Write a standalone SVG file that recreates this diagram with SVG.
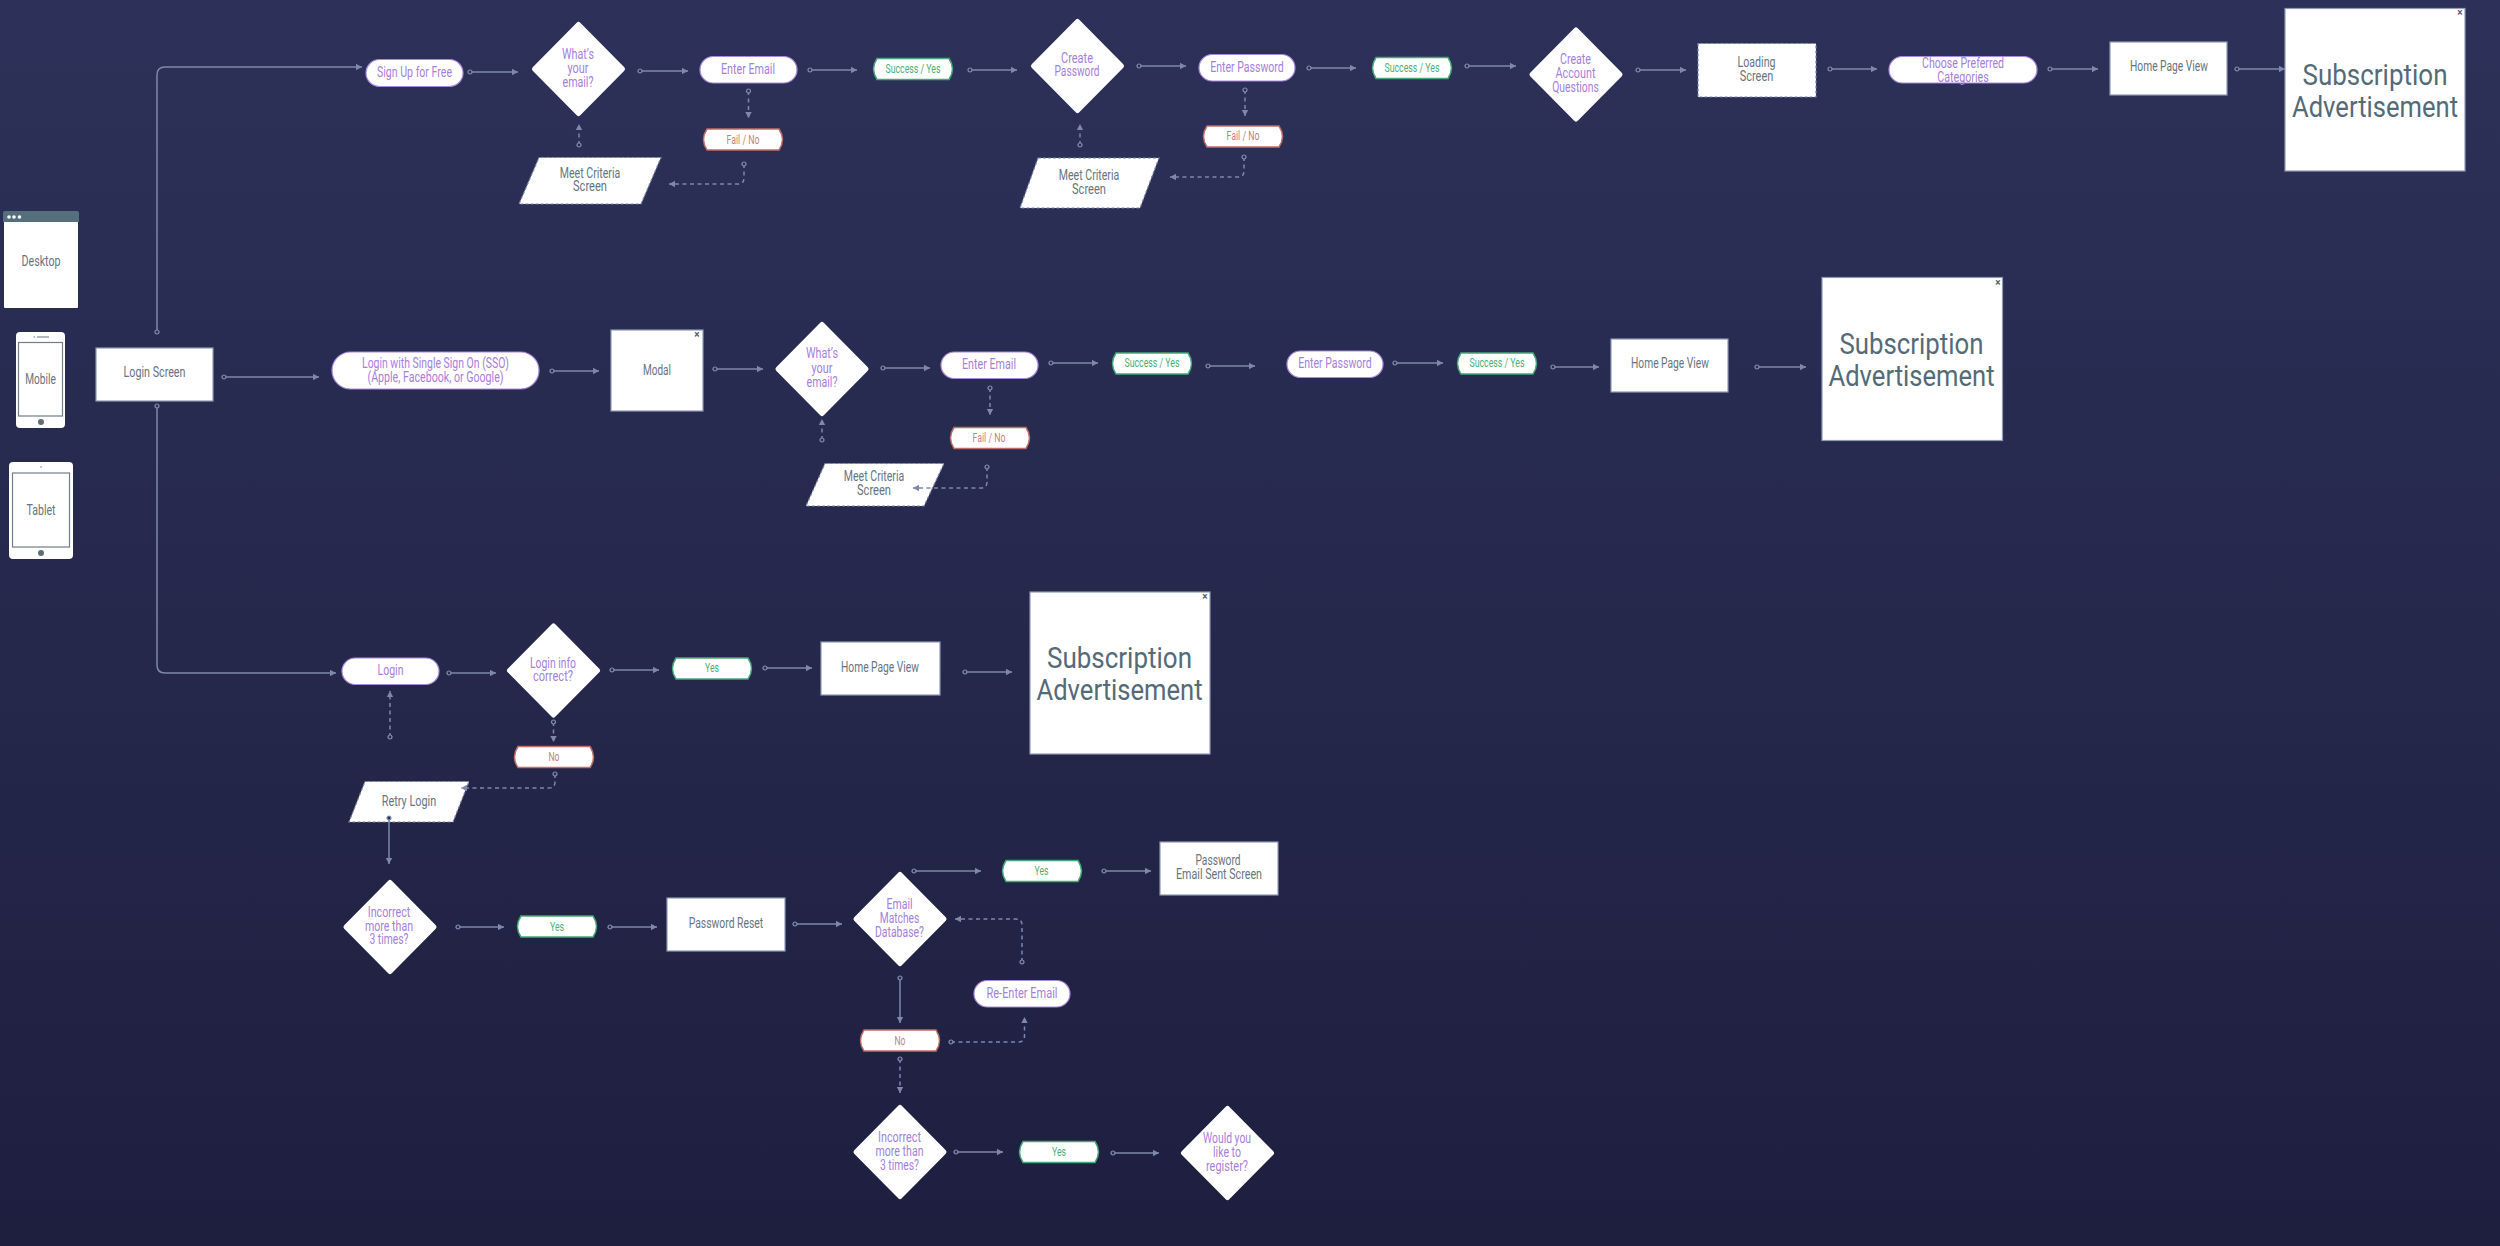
<svg xmlns="http://www.w3.org/2000/svg" width="2500" height="1246" viewBox="0 0 2500 1246">
<style>
text{font-family:Roboto,"Open Sans","Liberation Sans",sans-serif;text-anchor:middle;dominant-baseline:central;font-size:15px;fill:#66757f;transform:translateY(-0.8px)}
.p{fill:#a680dc}.g{fill:#4cae74;font-size:12.5px}.r{fill:#c47f80;font-size:12.5px}.big{font-size:29px;fill:#546b77;transform:translateY(-1.5px)}.x{font-size:10px;font-weight:700;fill:#50606c}
.box{fill:#fff;stroke:#8f9ab5;stroke-width:1.2}
.dash{fill:#fff;stroke:#7a83a0;stroke-width:1.2;stroke-dasharray:3 2}
.pill{fill:#fff;stroke:#a98ade;stroke-width:1.2}
.dia{fill:#fff;stroke:#fff;stroke-width:5;stroke-linejoin:round}
.ok{fill:#fff;stroke:#45a878;stroke-width:1.5}.no{fill:#fff;stroke:#bf6d68;stroke-width:1.5}
.scr{fill:none;stroke:#6f7f85;stroke-width:1.2}
#connectors path{fill:none;stroke:#7d88aa;stroke-width:1.5;marker-start:url(#o);marker-end:url(#a)}
#connectors .d{stroke-dasharray:4 3.5}
</style>
<defs>
<linearGradient id="bg" x1="0" y1="0" x2="0" y2="1"><stop offset="0" stop-color="#2d3159"/><stop offset="1" stop-color="#1e1f3f"/></linearGradient>
<marker id="a" markerUnits="userSpaceOnUse" markerWidth="8" markerHeight="8" refX="7" refY="4" orient="auto"><path d="M1 0.8L7 4L1 7.2Z" fill="#7d88aa"/></marker>
<marker id="o" markerUnits="userSpaceOnUse" markerWidth="8" markerHeight="8" refX="4" refY="4" orient="auto"><circle cx="4" cy="4" r="2" fill="#282b52" stroke="#8590b0" stroke-width="1.2"/></marker>
<path id="term" d="M4 0H76Q83 10.5 76 21H4Q-3 10.5 4 0Z"/>
<polygon id="dm" points="0,-44.5 44,0 0,44.5 -44,0"/>
</defs>
<rect width="2500" height="1246" fill="url(#bg)"/>
<g id="desktop"><rect x="4" y="212" width="74" height="96" rx="1" fill="#fff"/><path d="M3 222V213Q3 211 5 211H77Q79 211 79 213V222Z" fill="#55707c"/><circle cx="9" cy="217" r="1.800" fill="#fff"/><circle cx="14" cy="217" r="1.800" fill="#fff"/><circle cx="19.500" cy="217" r="1.800" fill="#fff"/><text x="41" y="262" textLength="39" lengthAdjust="spacingAndGlyphs">Desktop</text></g>
<g id="mobile"><rect x="16" y="332" width="49" height="96" rx="4" fill="#fff"/><rect x="18.500" y="342.500" width="44" height="73.500" class="scr"/><circle cx="41" cy="422" r="3" fill="#5e6e72"/><path d="M37 337H49M33.500 337H35" stroke="#66757f" stroke-width="1"/><text x="40.500" y="380" textLength="30.500" lengthAdjust="spacingAndGlyphs">Mobile</text></g>
<g id="tablet"><rect x="9" y="462" width="64" height="97" rx="4" fill="#fff"/><rect x="12.500" y="473" width="57" height="74" class="scr"/><circle cx="41" cy="553" r="3" fill="#5e6e72"/><circle cx="41" cy="467" r="0.700" fill="#5e6e72"/><text x="41" y="511" textLength="29" lengthAdjust="spacingAndGlyphs">Tablet</text></g>
<g id="login-screen"><rect class="box" x="96" y="348" width="117" height="53"/><text x="154.500" y="373" textLength="62" lengthAdjust="spacingAndGlyphs">Login Screen</text></g>
<g id="sign-up"><rect class="pill" x="366" y="59.500" width="97" height="27" rx="13.500"/><text class="p" x="414.500" y="73" textLength="75" lengthAdjust="spacingAndGlyphs">Sign Up for Free</text></g>
<g id="d-email1"><use href="#dm" class="dia" x="578.500" y="69"/><text class="p" x="578" y="55" textLength="32" lengthAdjust="spacingAndGlyphs">What’s</text><text class="p" x="578" y="69" textLength="21" lengthAdjust="spacingAndGlyphs">your</text><text class="p" x="578" y="83" textLength="31" lengthAdjust="spacingAndGlyphs">email?</text></g>
<g id="enter-email1"><rect class="pill" x="700" y="56.500" width="97" height="26.500" rx="13.250"/><text class="p" x="748" y="70" textLength="54" lengthAdjust="spacingAndGlyphs">Enter Email</text></g>
<g id="fail1"><use href="#term" class="no" x="703" y="129"/><text class="r" x="743" y="140" textLength="33" lengthAdjust="spacingAndGlyphs">Fail / No</text></g>
<g id="meet1"><polygon class="dash" points="539,157.500 661,157.500 641,204 519,204"/><text x="590" y="174" textLength="60.500" lengthAdjust="spacingAndGlyphs">Meet Criteria</text><text x="590" y="187" textLength="34" lengthAdjust="spacingAndGlyphs">Screen</text></g>
<g id="success1"><use href="#term" class="ok" x="873" y="58.500"/><text class="g" x="913" y="69.500" textLength="55" lengthAdjust="spacingAndGlyphs">Success / Yes</text></g>
<g id="d-password"><use href="#dm" class="dia" x="1077.500" y="66"/><text class="p" x="1077" y="59" textLength="32" lengthAdjust="spacingAndGlyphs">Create</text><text class="p" x="1077" y="72" textLength="45" lengthAdjust="spacingAndGlyphs">Password</text></g>
<g id="enter-password1"><rect class="pill" x="1199" y="54.500" width="96" height="26.500" rx="13.250"/><text class="p" x="1247" y="68" textLength="73.500" lengthAdjust="spacingAndGlyphs">Enter Password</text></g>
<g id="fail2"><use href="#term" class="no" x="1203" y="126"/><text class="r" x="1243" y="136.500" textLength="33" lengthAdjust="spacingAndGlyphs">Fail / No</text></g>
<g id="meet2"><polygon class="dash" points="1038,158 1159,158 1140,208 1020,208"/><text x="1089" y="176" textLength="60.500" lengthAdjust="spacingAndGlyphs">Meet Criteria</text><text x="1089" y="190" textLength="34" lengthAdjust="spacingAndGlyphs">Screen</text></g>
<g id="success2"><use href="#term" class="ok" x="1372" y="57.500"/><text class="g" x="1412" y="68" textLength="55" lengthAdjust="spacingAndGlyphs">Success / Yes</text></g>
<g id="d-account"><use href="#dm" class="dia" x="1576" y="74.500"/><text class="p" x="1575.500" y="60" textLength="31" lengthAdjust="spacingAndGlyphs">Create</text><text class="p" x="1575.500" y="74" textLength="40" lengthAdjust="spacingAndGlyphs">Account</text><text class="p" x="1575.500" y="88" textLength="46.500" lengthAdjust="spacingAndGlyphs">Questions</text></g>
<g id="loading"><rect class="dash" x="1698" y="43.500" width="118" height="53.500"/><text x="1756.500" y="63" textLength="38" lengthAdjust="spacingAndGlyphs">Loading</text><text x="1756.500" y="77" textLength="33.500" lengthAdjust="spacingAndGlyphs">Screen</text></g>
<g id="categories"><rect class="pill" x="1889" y="56.500" width="148" height="26.500" rx="13.250"/><text class="p" x="1963" y="64" textLength="82" lengthAdjust="spacingAndGlyphs">Choose Preferred</text><text class="p" x="1963" y="78" textLength="51.500" lengthAdjust="spacingAndGlyphs">Categories</text></g>
<g id="home1"><rect class="box" x="2110" y="42" width="117" height="53"/><text x="2169" y="67" textLength="78" lengthAdjust="spacingAndGlyphs">Home Page View</text></g>
<g id="sub1"><rect class="box" x="2285" y="8.500" width="180" height="162.500"/><text class="x" x="2460" y="13">×</text><text class="big" x="2375" y="76" textLength="145" lengthAdjust="spacingAndGlyphs">Subscription</text><text class="big" x="2375" y="108" textLength="166" lengthAdjust="spacingAndGlyphs">Advertisement</text></g>
<g id="sso"><rect class="pill" x="332" y="352" width="207" height="37" rx="18.500"/><text class="p" x="435.500" y="364" textLength="147" lengthAdjust="spacingAndGlyphs">Login with Single Sign On (SSO)</text><text class="p" x="435.500" y="378" textLength="136" lengthAdjust="spacingAndGlyphs">(Apple, Facebook, or Google)</text></g>
<g id="modal"><rect class="box" x="611" y="330" width="92" height="81"/><text class="x" x="697" y="335">×</text><text x="657" y="371" textLength="28" lengthAdjust="spacingAndGlyphs">Modal</text></g>
<g id="d-email2"><use href="#dm" class="dia" x="822" y="369"/><text class="p" x="822" y="354" textLength="32" lengthAdjust="spacingAndGlyphs">What’s</text><text class="p" x="822" y="369" textLength="21" lengthAdjust="spacingAndGlyphs">your</text><text class="p" x="822" y="383" textLength="31" lengthAdjust="spacingAndGlyphs">email?</text></g>
<g id="enter-email2"><rect class="pill" x="941" y="352" width="97" height="26.500" rx="13.250"/><text class="p" x="989" y="365" textLength="54" lengthAdjust="spacingAndGlyphs">Enter Email</text></g>
<g id="success3"><use href="#term" class="ok" x="1112" y="353"/><text class="g" x="1152" y="363.500" textLength="55" lengthAdjust="spacingAndGlyphs">Success / Yes</text></g>
<g id="enter-password2"><rect class="pill" x="1287" y="351" width="96" height="26.500" rx="13.250"/><text class="p" x="1335" y="364" textLength="73.500" lengthAdjust="spacingAndGlyphs">Enter Password</text></g>
<g id="success4"><use href="#term" class="ok" x="1457" y="353"/><text class="g" x="1497" y="363.500" textLength="55" lengthAdjust="spacingAndGlyphs">Success / Yes</text></g>
<g id="home2"><rect class="box" x="1611" y="339" width="117" height="53"/><text x="1670" y="364" textLength="78" lengthAdjust="spacingAndGlyphs">Home Page View</text></g>
<g id="sub2"><rect class="box" x="1822" y="277.500" width="180.500" height="163"/><text class="x" x="1998" y="283">×</text><text class="big" x="1911.500" y="345" textLength="144" lengthAdjust="spacingAndGlyphs">Subscription</text><text class="big" x="1911.500" y="377" textLength="166" lengthAdjust="spacingAndGlyphs">Advertisement</text></g>
<g id="fail3"><use href="#term" class="no" x="950" y="427.500"/><text class="r" x="989" y="438" textLength="33" lengthAdjust="spacingAndGlyphs">Fail / No</text></g>
<g id="meet3"><polygon class="dash" points="825,463.500 944,463.500 924,506 806,506"/><text x="874" y="477" textLength="60.500" lengthAdjust="spacingAndGlyphs">Meet Criteria</text><text x="874" y="491" textLength="34" lengthAdjust="spacingAndGlyphs">Screen</text></g>
<g id="login"><rect class="pill" x="342" y="658" width="97" height="26.500" rx="13.250"/><text class="p" x="390.500" y="671" textLength="26" lengthAdjust="spacingAndGlyphs">Login</text></g>
<g id="d-login"><use href="#dm" class="dia" x="553.500" y="670.500"/><text class="p" x="553" y="664" textLength="46" lengthAdjust="spacingAndGlyphs">Login info</text><text class="p" x="553" y="677" textLength="40" lengthAdjust="spacingAndGlyphs">correct?</text></g>
<g id="yes1"><use href="#term" class="ok" x="672" y="658"/><text class="g" x="712" y="668.500" textLength="14" lengthAdjust="spacingAndGlyphs">Yes</text></g>
<g id="home3"><rect class="box" x="821" y="642" width="119" height="53"/><text x="880" y="667.500" textLength="78" lengthAdjust="spacingAndGlyphs">Home Page View</text></g>
<g id="sub3"><rect class="box" x="1030" y="592" width="180" height="162"/><text class="x" x="1205" y="597">×</text><text class="big" x="1119.500" y="659" textLength="145" lengthAdjust="spacingAndGlyphs">Subscription</text><text class="big" x="1119.500" y="691" textLength="166" lengthAdjust="spacingAndGlyphs">Advertisement</text></g>
<g id="no1"><use href="#term" class="no" x="514" y="746.500"/><text class="r" x="554" y="757" textLength="11" lengthAdjust="spacingAndGlyphs">No</text></g>
<g id="retry"><polygon class="dash" points="365,781.500 469,781.500 453,822 349,822"/><text x="409" y="802" textLength="54.500" lengthAdjust="spacingAndGlyphs">Retry Login</text></g>
<g id="d-incorrect1"><use href="#dm" class="dia" x="390" y="927"/><text class="p" x="389" y="913" textLength="42.500" lengthAdjust="spacingAndGlyphs">Incorrect</text><text class="p" x="389" y="927" textLength="48" lengthAdjust="spacingAndGlyphs">more than</text><text class="p" x="389" y="940" textLength="39" lengthAdjust="spacingAndGlyphs">3 times?</text></g>
<g id="yes2"><use href="#term" class="ok" x="517" y="916"/><text class="g" x="557" y="927" textLength="14" lengthAdjust="spacingAndGlyphs">Yes</text></g>
<g id="reset"><rect class="box" x="667" y="898" width="118" height="53"/><text x="726" y="924" textLength="74.500" lengthAdjust="spacingAndGlyphs">Password Reset</text></g>
<g id="d-match"><use href="#dm" class="dia" x="900" y="919"/><text class="p" x="899.500" y="905" textLength="26" lengthAdjust="spacingAndGlyphs">Email</text><text class="p" x="899.500" y="919" textLength="39.500" lengthAdjust="spacingAndGlyphs">Matches</text><text class="p" x="899.500" y="933" textLength="49" lengthAdjust="spacingAndGlyphs">Database?</text></g>
<g id="yes3"><use href="#term" class="ok" x="1002" y="860.500"/><text class="g" x="1041.500" y="871" textLength="14" lengthAdjust="spacingAndGlyphs">Yes</text></g>
<g id="sent"><rect class="box" x="1160" y="842" width="118" height="53"/><text x="1218" y="861" textLength="45" lengthAdjust="spacingAndGlyphs">Password</text><text x="1219" y="875" textLength="86" lengthAdjust="spacingAndGlyphs">Email Sent Screen</text></g>
<g id="re-enter"><rect class="pill" x="974" y="980.500" width="96" height="26.500" rx="13.250"/><text class="p" x="1022" y="994" textLength="71" lengthAdjust="spacingAndGlyphs">Re-Enter Email</text></g>
<g id="no2"><use href="#term" class="no" x="860" y="1030"/><text class="r" x="900" y="1041" textLength="11" lengthAdjust="spacingAndGlyphs">No</text></g>
<g id="d-incorrect2"><use href="#dm" class="dia" x="900" y="1152"/><text class="p" x="899.500" y="1138" textLength="43" lengthAdjust="spacingAndGlyphs">Incorrect</text><text class="p" x="899.500" y="1152" textLength="48" lengthAdjust="spacingAndGlyphs">more than</text><text class="p" x="899.500" y="1166" textLength="39" lengthAdjust="spacingAndGlyphs">3 times?</text></g>
<g id="yes4"><use href="#term" class="ok" x="1019" y="1141.500"/><text class="g" x="1059" y="1152" textLength="14" lengthAdjust="spacingAndGlyphs">Yes</text></g>
<g id="d-register"><use href="#dm" class="dia" x="1227.500" y="1153"/><text class="p" x="1227" y="1139" textLength="48" lengthAdjust="spacingAndGlyphs">Would you</text><text class="p" x="1227" y="1153" textLength="28" lengthAdjust="spacingAndGlyphs">like to</text><text class="p" x="1227" y="1167" textLength="42" lengthAdjust="spacingAndGlyphs">register?</text></g>
<g id="connectors">
<path d="M157 332V75Q157 67 165 67H362"/>
<path d="M470 72H518"/>
<path d="M640 71H688"/>
<path class="d" d="M748.500 91V118"/>
<path class="d" d="M744 164V178Q744 184 738 184H669"/>
<path class="d" d="M579 145V124"/>
<path d="M810 70H857"/>
<path d="M970 70H1017"/>
<path d="M1139 66H1186"/>
<path d="M1309 68H1356"/>
<path class="d" d="M1245 90V116"/>
<path class="d" d="M1244 157V171Q1244 177 1238 177H1170"/>
<path class="d" d="M1080 145V124"/>
<path d="M1467 66H1516"/>
<path d="M1638 70H1686"/>
<path d="M1830 69H1877"/>
<path d="M2050 69H2098"/>
<path d="M2237 69H2285"/>
<path d="M224 377H319"/>
<path d="M552 371H599"/>
<path d="M715 369H763"/>
<path d="M883 368H930"/>
<path d="M1051 363H1098"/>
<path d="M1208 366H1255"/>
<path d="M1395 363H1443"/>
<path d="M1553 367H1599"/>
<path d="M1757 367H1806"/>
<path class="d" d="M990 388V415"/>
<path class="d" d="M987 467V482Q987 488 981 488H913"/>
<path class="d" d="M822 440V419"/>
<path d="M157 406V665Q157 673 165 673H336"/>
<path d="M449 673H496"/>
<path d="M612 670H659"/>
<path d="M765 668H812"/>
<path d="M965 672H1012"/>
<path class="d" d="M390 737V691"/>
<path class="d" d="M553.500 722V742"/>
<path class="d" d="M555 774V782Q555 788 549 788H461"/>
<path d="M389 818V864"/>
<path d="M458 927H504"/>
<path d="M610 927H657"/>
<path d="M795 924H842"/>
<path d="M914 871H981"/>
<path d="M1104 871H1151"/>
<path class="d" d="M1022 962V925Q1022 919 1016 919H955"/>
<path d="M900 978V1023"/>
<path class="d" d="M951 1042H1018Q1024.500 1042 1024.500 1036V1017"/>
<path class="d" d="M900 1059V1093"/>
<path d="M956 1152H1003"/>
<path d="M1113 1153H1159"/>
</g>
</svg>
